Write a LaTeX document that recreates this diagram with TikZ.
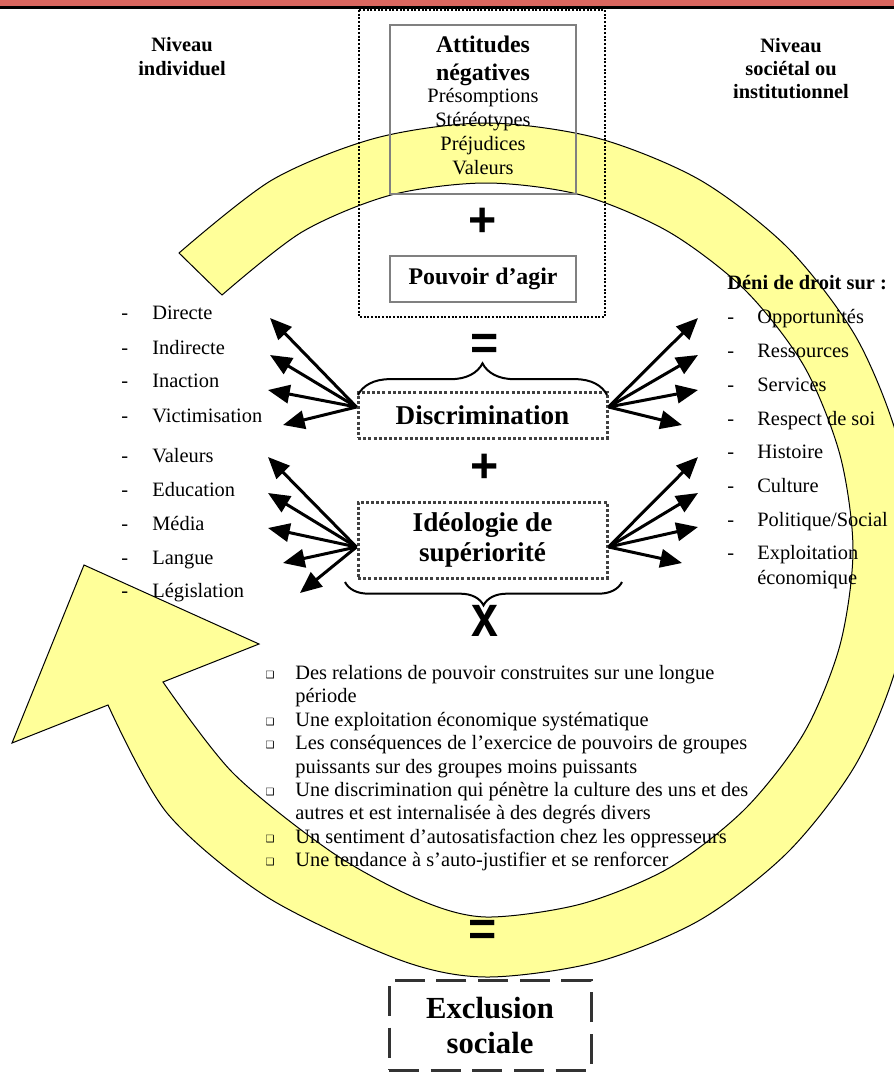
\documentclass[tikz,border=0pt]{standalone}
\usepackage{fontspec}
\setmainfont{Liberation Serif}
\newfontfamily\signfont{Liberation Sans}
\newfontfamily\dingfont{DejaVu Sans}
\usepackage{graphicx}
\usetikzlibrary{arrows.meta}
\usetikzlibrary{decorations.pathreplacing}

\definecolor{bandred}{RGB}{217,102,95}
\definecolor{cycleyellow}{RGB}{255,255,153}

\tikzset{
	plaintxt/.style={inner sep=0pt, font=\fontsize{12.25}{14}\selectfont, text height=8pt, text depth=2.5pt},
	itemtxt/.style={plaintxt, anchor=west},
	boldtxt/.style={inner sep=0pt, font=\bfseries\fontsize{14.3}{16}\selectfont, text height=9.5pt, text depth=3pt},
	headtxt/.style={align=center, inner sep=0pt, font=\bfseries\fontsize{12.25}{14}\selectfont},
	signtxt/.style={inner sep=0pt, font=\signfont\bfseries\fontsize{29}{30}\selectfont},
	bullet/.style={inner sep=0pt, font=\dingfont\fontsize{6}{7}\selectfont},
	greybox/.style={draw=gray, line width=0.8pt, minimum width=111.6pt, inner sep=0pt},
	sqdashbox/.style={draw=black!75, line width=1.8pt, dash pattern=on 1.8pt off 1.3pt, minimum width=149.4pt, inner sep=0pt, align=center, font=\bfseries\fontsize{16.3}{17.5}\selectfont},
	longdashbox/.style={draw=black!80, line width=1.8pt, dash pattern=on 18pt off 7pt, minimum width=121.2pt, minimum height=54pt, inner sep=0pt, align=center, font=\bfseries\fontsize{18.4}{21}\selectfont},
	fan/.style={-{Triangle[length=13pt,width=11pt]}, line width=1.8pt},
	curly/.style={decorate, line width=1.2pt},
}

\begin{document}
\begin{tikzpicture}[x=0.6pt,y=-0.6pt]
	\useasboundingbox (0,0) rectangle (894,1073);

	% cycle arrow behind everything
	\begin{scope}
		\clip (0,0) rectangle (894,1073);
		\filldraw[fill=cycleyellow, draw=black, line width=0.6pt]
			plot[smooth] coordinates {(179,253) (272,180) (376,138) (486,123) (597,138) (700,180) (788,248) (856,337) (898,440) (913,550) (898,661) (856,764) (788,852) (700,920) (597,962) (486,977) (400,960) (267,897) (167,813) (108,705)}
			-- (12,743) -- (84,565) -- (259,644)
			-- plot[smooth] coordinates {(163,682) (233,773) (333,853) (420,900) (486,917) (581,904) (669,868) (745,809) (804,733) (840,645) (853,550) (840,455) (804,366) (745,290) (669,232) (581,195) (486,183) (391,195) (302,232) (222,295)}
			-- cycle;
	\end{scope}

	\fill[bandred] (0,0) rectangle (894,6);
	\fill (0,6) rectangle (894,9);

	\draw[line width=1.5pt, dash pattern=on 1.2pt off 1pt] (359,10) rectangle (605,317);

	\node[headtxt] (indiv) at (182,56.5) {Niveau\\individuel};
	\node[headtxt] (societ) at (791,68.5) {Niveau\\sociétal ou\\institutionnel};

	\node[greybox, minimum height=101.4pt] (attbox) at (483,109.5) {};
	\node[boldtxt] (att1) at (483,47) {Attitudes};
	\node[boldtxt] (att2) at (483,75) {négatives};
	\foreach \t/\y [count=\i] in {Présomptions/98, Stéréotypes/122, Préjudices/146, Valeurs/170}
		\node[plaintxt] (attl\i) at (483,\y) {\t};
	\node[signtxt] (plus1) at (483,222) {+};
	\node[greybox, minimum height=27.6pt, font=\bfseries\fontsize{14.3}{16}\selectfont] (pouvoir) at (483,279) {Pouvoir d’agir};

	\node[signtxt] (eq1) at (485,347) {=};
	\node[sqdashbox, minimum height=27.6pt] (discr) at (482.5,415) {Discrimination};
	\node[signtxt] (plus2) at (485,468) {+};
	\node[sqdashbox, minimum height=45.6pt] (ideo) at (482.5,540) {Idéologie de\\supériorité};
	\node[signtxt] (times) at (485,621) {\scalebox{1}[1.22]{x}};

	\draw[curly, decoration={brace, amplitude=19pt}] (358,395) -- (607,395);
	\draw[curly, decoration={brace, amplitude=14pt}] (622,582) -- (345,582);

	% left side
	\foreach \t/\y [count=\i] in {Directe/315, Indirecte/350, Inaction/383, Victimisation/418, Valeurs/458, Education/492, Média/526, Langue/560, Législation/593}
		\node[itemtxt] (ind\i) at (121,\y) {\makebox[18.6pt][l]{-}\t};
	\foreach \x/\y [count=\i] in {270/318, 270/355, 268/390, 283/425} {
		\coordinate (dl\i) at (\x,\y);
		\draw[fan] ([yshift=4.8pt]discr.west) -- (dl\i);
	}
	\foreach \x/\y [count=\i] in {268/457, 268/493, 268/528, 283/563, 300/593} {
		\coordinate (il\i) at (\x,\y);
		\draw[fan] ([yshift=-4.2pt]ideo.west) -- (il\i);
	}

	% right side
	\node[itemtxt, font=\bfseries\fontsize{12.25}{14}\selectfont] (deni) at (727,285) {Déni de droit sur :};
	\foreach \t/\y [count=\i] in {Opportunités/319, Ressources/353, Services/387, Respect de soi/421, Histoire/454, Culture/488, {Politique/Social}/522, Exploitation/555}
		\node[itemtxt] (droit\i) at (727,\y) {\makebox[18pt][l]{-}\t};
	\node[itemtxt] (droit9) at (757,580) {économique};
	\foreach \x/\y [count=\i] in {698/318, 698/355, 698/390, 682/425} {
		\coordinate (dr\i) at (\x,\y);
		\draw[fan] ([yshift=4.8pt]discr.east) -- (dr\i);
	}
	\foreach \x/\y [count=\i] in {698/457, 698/493, 698/527, 682/563} {
		\coordinate (ir\i) at (\x,\y);
		\draw[fan] ([yshift=-4.2pt]ideo.east) -- (ir\i);
	}

	% bullet list
	\foreach \y [count=\i] in {675, 721.8, 745.2, 792, 838.8, 862.2}
		\node[bullet] (bul\i) at (270,\y) {❑};
	\foreach \t/\y [count=\i] in {Des relations de pouvoir construites sur une longue/675, période/698.4, Une exploitation économique systématique/721.8, Les conséquences de l’exercice de pouvoirs de groupes/745.2, puissants sur des groupes moins puissants/768.6, Une discrimination qui pénètre la culture des uns et des/792, autres et est internalisée à des degrés divers/815.4, Un sentiment d’autosatisfaction chez les oppresseurs/838.8, Une tendance à s’auto-justifier et se renforcer/862.2}
		\node[itemtxt] (crit\i) at (295,\y) {\t};

	\node[signtxt] (eq2) at (483,933) {=};
	\node[longdashbox] (excl) at (490,1025) {Exclusion\\sociale};
\end{tikzpicture}
\end{document}
